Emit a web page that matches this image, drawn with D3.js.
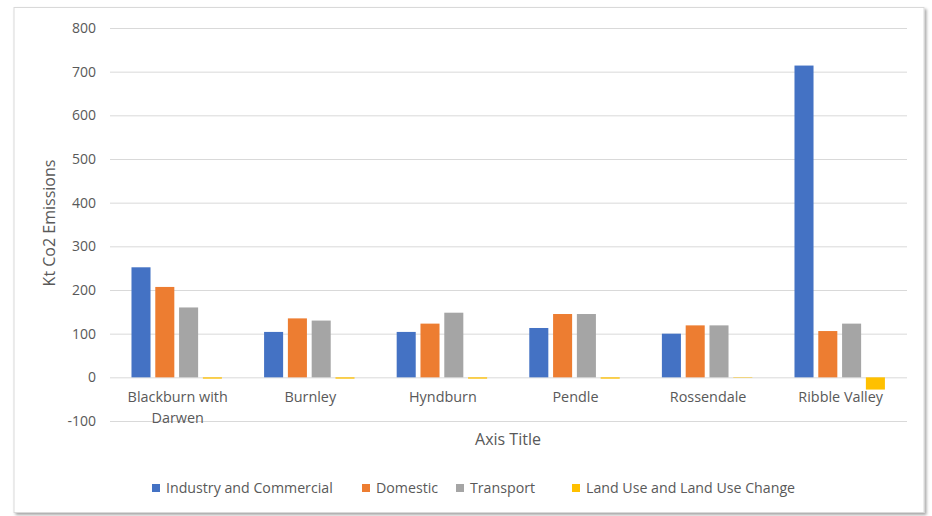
<!DOCTYPE html>
<html>
<head>
<meta charset="utf-8">
<script src="https://cdn.jsdelivr.net/npm/d3@7/dist/d3.min.js"></script>
<style>
  html, body { margin: 0; padding: 0; background: #ffffff; }
  svg { display: block; }
  text { font-family: "Open Sans", Lato, "Liberation Sans", sans-serif; }
</style>
</head>
<body>
<svg id="chart" width="932" height="516"></svg>
<script>
const categories = ["Blackburn with Darwen", "Burnley", "Hyndburn", "Pendle", "Rossendale", "Ribble Valley"];
const seriesNames = ["Industry and Commercial", "Domestic", "Transport", "Land Use and Land Use Change"];
const industry = [252, 104, 104, 113, 100, 714];
const domestic = [207, 135, 123, 145, 119, 106];
const transport = [160, 130, 148, 145, 119, 123];
const landUse = [-3, -3, -3, -3, -1, -28];
const yTicks = [-100, 0, 100, 200, 300, 400, 500, 600, 700, 800];
const colors = ["#4472C4", "#ED7D31", "#A5A5A5", "#FFC000"];

const seriesValues = [industry, domestic, transport, landUse];

const svg = d3.select("#chart");

// chart area frame with shadow
const defs = svg.append("defs");
const f = defs.append("filter").attr("id", "shadow").attr("x", "-5%").attr("y", "-5%").attr("width", "110%").attr("height", "110%");
f.append("feDropShadow").attr("dx", 2).attr("dy", 2).attr("stdDeviation", 1.5).attr("flood-color", "#000").attr("flood-opacity", 0.35);
svg.append("rect").attr("x", 14).attr("y", 7.5).attr("width", 910).attr("height", 505)
  .attr("fill", "#fff").attr("stroke", "#d9d9d9").attr("stroke-width", 1).attr("filter", "url(#shadow)");

const plot = { left: 110, right: 907, top: 28, bottom: 421 };

const x = d3.scaleBand().domain(categories).range([110.4, 906]).paddingInner(0).paddingOuter(0);
const y = d3.scaleLinear().domain([-100, 800]).range([plot.bottom, plot.top]);
const xs = d3.scaleBand().domain(d3.range(seriesNames.length)).range([0, x.bandwidth()]).paddingInner(0.2).paddingOuter(0.886);

// gridlines
const yAxis = d3.axisLeft(y).tickValues(yTicks).tickSize(-(plot.right - plot.left)).tickPadding(14).tickFormat(d => String(d));
const ga = svg.append("g").attr("transform", `translate(${plot.left},0)`).call(yAxis);
ga.select(".domain").remove();
ga.selectAll(".tick line").attr("stroke", "#d9d9d9").attr("stroke-width", 1);
ga.selectAll(".tick text").attr("fill", "#595959").style("font-size", "14px");

// bars
const groups = svg.append("g").selectAll("g").data(categories).join("g")
  .attr("transform", d => `translate(${x(d)},0)`);
groups.selectAll("rect").data((c, ci) => seriesValues.map((vals, si) => ({ si, v: vals[ci] })))
  .join("rect")
  .attr("x", d => xs(d.si))
  .attr("width", xs.bandwidth())
  .attr("y", d => y(Math.max(0, d.v)))
  .attr("height", d => Math.abs(y(d.v) - y(0)))
  .attr("fill", d => colors[d.si]);

// category labels
const lblLines = { "Blackburn with Darwen": ["Blackburn with", "Darwen"] };
const cl = svg.append("g");
categories.forEach(c => {
  const lines = lblLines[c] || [c];
  const cx = x(c) + x.bandwidth() / 2 + 1;
  const t = cl.append("text").attr("x", cx).attr("y", 402)
    .attr("text-anchor", "middle").attr("fill", "#595959").style("font-size", "14.4px");
  lines.forEach((l, i) => t.append("tspan").attr("x", cx).attr("dy", i === 0 ? 0 : 21).text(l));
});

// axis titles
svg.append("text").attr("x", 508).attr("y", 445).attr("text-anchor", "middle")
  .attr("fill", "#595959").style("font-size", "16px").text("Axis Title");
svg.append("text").attr("transform", "translate(55,223) rotate(-90)").attr("text-anchor", "middle")
  .attr("fill", "#595959").style("font-size", "16px").text("Kt Co2 Emissions");

// legend
const legendX = [152, 362, 456, 572];
const lg = svg.append("g");
seriesNames.forEach((s, i) => {
  lg.append("rect").attr("x", legendX[i]).attr("y", 484).attr("width", 8).attr("height", 8).attr("fill", colors[i]);
  lg.append("text").attr("x", legendX[i] + 14).attr("y", 493).attr("fill", "#595959").style("font-size", "14.2px").text(s);
});
</script>
</body>
</html>
